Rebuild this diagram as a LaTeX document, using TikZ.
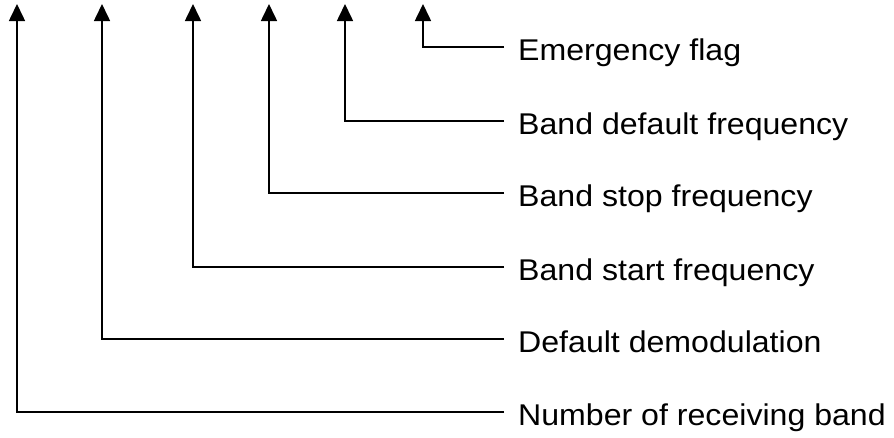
\documentclass[tikz,border=0pt]{standalone}
\usepackage{fontspec}
\setmainfont{Liberation Sans}
\usetikzlibrary{arrows.meta}
\begin{document}
\begin{tikzpicture}[x=1pt,y=-1pt,
  conn/.style={line width=1.6pt,-{Triangle[length=17pt,width=16pt]}},
  lbl/.style={anchor=base west,inner sep=0pt,font=\fontsize{30}{32}\selectfont}]
\useasboundingbox (0,0) rectangle (894,437);
\foreach \i/\x/\y/\t in {1/17/412/Number of receiving band,
                       2/102/339/Default demodulation,
                       3/193/267/Band start frequency,
                       4/269/193/Band stop frequency,
                       5/345/121/Band default frequency,
                       6/423/47/Emergency flag}{
  \coordinate (t\i) at (\x,4);
  \coordinate (e\i) at (504,\y);
  \node[lbl] (l\i) at (518,\y+13) {\scalebox{1.07}[1]{\t}};
  \draw[conn] (e\i) -| (t\i);
}
\end{tikzpicture}
\end{document}
